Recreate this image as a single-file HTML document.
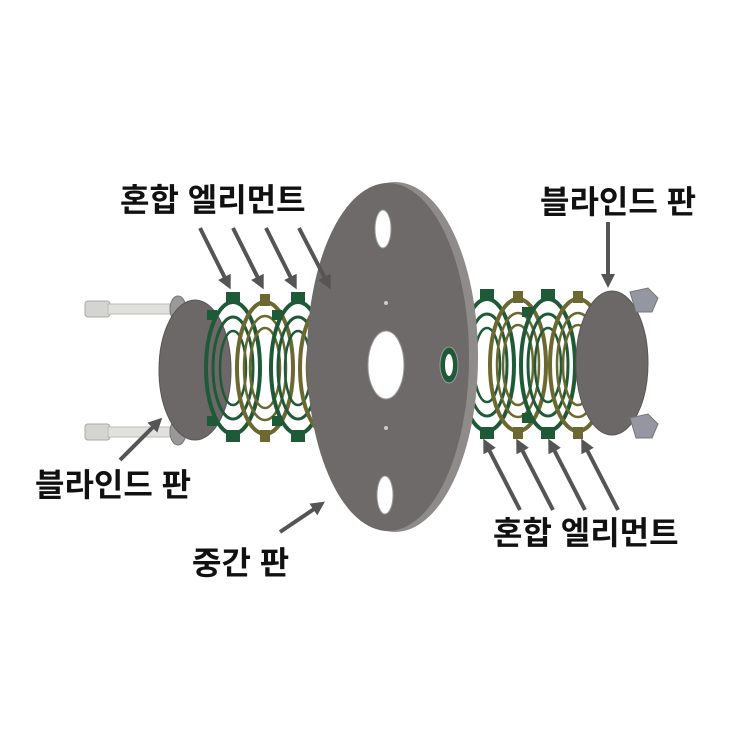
<!DOCTYPE html>
<html><head><meta charset="utf-8"><style>
html,body{margin:0;padding:0;background:#fff;}
svg{display:block}
text{font-family:"Liberation Sans","Noto Sans CJK KR","NanumGothic",sans-serif;font-weight:bold;fill:#111;font-size:32px}
</style></head><body>
<svg width="750" height="750" viewBox="0 0 750 750" xmlns="http://www.w3.org/2000/svg">
<defs>
<marker id="ah" markerWidth="3.5" markerHeight="3.5" refX="2" refY="1.75" orient="auto" markerUnits="strokeWidth">
<path d="M0,0 L3.5,1.75 L0,3.5 z" fill="#555"/></marker>
<g id="ringG">
<ellipse cx="0" cy="0" rx="27" ry="66" fill="none" stroke="#1f5a38" stroke-width="4"/>
<ellipse cx="0" cy="0" rx="20" ry="51" fill="none" stroke="#1f5a38" stroke-width="3"/>
<ellipse cx="0" cy="0" rx="13" ry="37" fill="none" stroke="#1f5a38" stroke-width="2.5"/>
<rect x="-7" y="-76" width="14" height="12" fill="#1f5a38"/>
<rect x="-7" y="62" width="14" height="12" fill="#1f5a38"/>
<rect x="-26" y="-58" width="10" height="10" fill="#1f5a38"/>
<rect x="-26" y="48" width="10" height="10" fill="#1f5a38"/>
</g>
<g id="ringY">
<ellipse cx="0" cy="0" rx="28" ry="66" fill="none" stroke="#6b6830" stroke-width="4"/>
<ellipse cx="0" cy="0" rx="21" ry="52" fill="none" stroke="#6b6830" stroke-width="2.5"/>
<ellipse cx="0" cy="0" rx="15" ry="40" fill="none" stroke="#6b6830" stroke-width="2.5"/>
<rect x="-5" y="-74" width="10" height="12" fill="#6b6830"/>
<rect x="-5" y="62" width="10" height="12" fill="#6b6830"/>
</g>
</defs>

<g>
<rect x="85" y="301" width="25" height="16" rx="3" fill="#d4d4d0" stroke="#aaa"/>
<rect x="108" y="304" width="62" height="10" fill="#e0e0dc" stroke="#bbb"/>
<rect x="85" y="424" width="25" height="16" rx="3" fill="#d4d4d0" stroke="#aaa"/>
<rect x="108" y="427" width="62" height="10" fill="#e0e0dc" stroke="#bbb"/>
<ellipse cx="178" cy="309" rx="8" ry="13" fill="#999" stroke="#777"/>
<ellipse cx="178" cy="432" rx="8" ry="13" fill="#999" stroke="#777"/>
</g>
<ellipse cx="195" cy="370" rx="36" ry="70" fill="#6c6867" stroke="#5a5655"/>

<use href="#ringG" x="233" y="368"/>
<use href="#ringY" x="265" y="368"/>
<use href="#ringG" x="298" y="368"/>
<use href="#ringY" x="328" y="368"/>

<use href="#ringG" x="487" y="365"/>
<use href="#ringY" x="518" y="365"/>
<use href="#ringG" x="548" y="365"/>
<use href="#ringY" x="578" y="365"/>

<ellipse cx="395" cy="357" rx="83" ry="175" fill="#8e8b8a"/>
<ellipse cx="388" cy="357" rx="81" ry="174" fill="#6e6a69"/>
<ellipse cx="383" cy="229" rx="8" ry="19" fill="#fff" stroke="#999"/>
<ellipse cx="385" cy="495" rx="8" ry="19" fill="#fff" stroke="#999"/>
<ellipse cx="386" cy="365" rx="18" ry="34" fill="#fff" stroke="#999"/>
<ellipse cx="449" cy="365" rx="9" ry="18" fill="#1f5a38" stroke="#999"/>
<ellipse cx="449" cy="365" rx="4" ry="11" fill="#fff"/>
<circle cx="386" cy="303" r="2" fill="#ccc"/>
<circle cx="386" cy="428" r="2" fill="#ccc"/>

<ellipse cx="612" cy="363" rx="36" ry="72" fill="#6c6867" stroke="#5a5655"/>
<polygon points="630,292 648,288 658,298 652,312 636,312" fill="#9496a2" stroke="#777"/>
<polygon points="630,418 648,414 658,424 652,438 636,438" fill="#9496a2" stroke="#777"/>

<g stroke="#555" stroke-width="4" fill="none" marker-end="url(#ah)">
<line x1="200" y1="228" x2="228" y2="284"/>
<line x1="233" y1="228" x2="261" y2="284"/>
<line x1="266" y1="228" x2="294" y2="284"/>
<line x1="299" y1="228" x2="328" y2="284"/>
<line x1="608" y1="222" x2="608" y2="282"/>
<line x1="120" y1="460" x2="158" y2="422"/>
<line x1="280" y1="532" x2="320" y2="505"/>
<line x1="520" y1="510" x2="486" y2="444"/>
<line x1="553" y1="510" x2="519" y2="444"/>
<line x1="585" y1="510" x2="551" y2="444"/>
<line x1="618" y1="510" x2="584" y2="444"/>
</g>

<text x="120" y="211">혼합 엘리먼트</text>
<text x="540" y="213">블라인드 판</text>
<text x="35" y="496">블라인드 판</text>
<text x="192" y="574">중간 판</text>
<text x="493" y="544">혼합 엘리먼트</text>
</svg>
</body></html>
